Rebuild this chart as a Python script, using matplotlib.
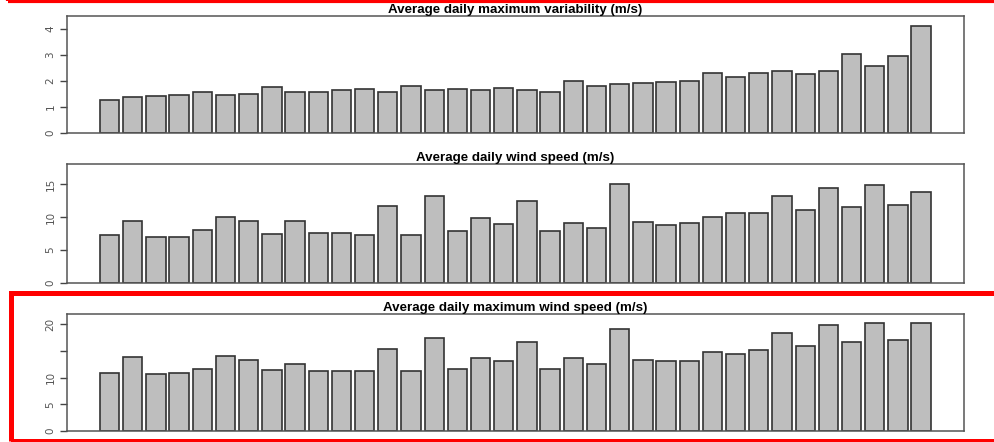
import numpy as np
import matplotlib
matplotlib.use("Agg")
import matplotlib.pyplot as plt
from matplotlib.patches import Rectangle

# values (36 bars each)
variability = [1.26, 1.38, 1.42, 1.47, 1.56, 1.47, 1.50, 1.78, 1.56, 1.56,
               1.64, 1.68, 1.56, 1.79, 1.65, 1.70, 1.64, 1.74, 1.67, 1.56,
               2.00, 1.79, 1.87, 1.94, 1.97, 2.01, 2.31, 2.17, 2.32, 2.40,
               2.26, 2.38, 3.03, 2.56, 2.95, 4.12]
wind_speed = [7.37, 9.40, 7.02, 7.02, 8.03, 10.10, 9.50, 7.52, 9.40, 7.68,
              7.68, 7.32, 11.64, 7.32, 13.17, 7.98, 9.86, 8.90, 12.50, 7.93,
              9.20, 8.29, 15.00, 9.35, 8.85, 9.20, 10.10, 10.70, 10.70, 13.17,
              11.03, 14.39, 11.54, 14.85, 11.90, 13.78]
max_wind = [10.97, 13.92, 10.60, 10.90, 11.72, 13.98, 13.23, 11.35, 12.48, 11.29,
            11.29, 11.29, 15.30, 11.29, 17.43, 11.72, 13.67, 13.10, 16.60, 11.66,
            13.60, 12.48, 19.18, 13.23, 13.17, 13.17, 14.80, 14.36, 15.10, 18.37,
            15.92, 19.80, 16.68, 20.30, 17.05, 20.30]

titles = ["Average daily maximum variability (m/s)",
          "Average daily wind speed (m/s)",
          "Average daily maximum wind speed (m/s)"]
ytop = [4.5, 18.1, 21.94]
yticks = [[0, 1, 2, 3, 4], [0, 5, 10, 15], [0, 5, 10, 15, 20]]
ylabels = [["0", "1", "2", "3", "4"], ["0", "5", "10", "15"], ["0", "5", "10", "", "20"]]

W, H = 995, 442
fig = plt.figure(figsize=(W / 100, H / 100), dpi=100)
title_font = ['Liberation Sans Narrow', 'Liberation Sans', 'DejaVu Sans']

# axes boxes in pixels: (top, bottom)
boxes = [(16, 133), (164, 283), (314, 431)]
left_px, right_px = 66.7, 964

# R style barplot: width 1, space 0.2
n = len(variability)
x = 0.2 + 1.2 * np.arange(n) + 0.5

for k, data in enumerate([variability, wind_speed, max_wind]):
    top, bot = boxes[k]
    ax = fig.add_axes([left_px / W, 1 - bot / H, (right_px - left_px) / W, (bot - top) / H])
    ax.bar(x, data, width=1.0, color='#bebebe', edgecolor='#333333', linewidth=1.2)
    ax.set_xlim(0.2 - 1.72, 43.2 + 1.72)
    ax.set_ylim(0, ytop[k])
    ax.set_xticks([])
    ax.set_yticks(yticks[k])
    ax.set_yticklabels(ylabels[k], rotation=90, va='center', fontsize=7.5, color='#555555')
    ax.tick_params(axis='y', length=5, width=1.0, color='#444444', pad=3)
    for s in ax.spines.values():
        s.set_color('#555555')
        s.set_linewidth(1.1)
    ax.set_title(titles[k], fontsize=9.6, fontweight='bold', family=title_font, pad=1.5)

# red highlight frames
fig.patches.append(Rectangle((8 / W, 1 - 1 / H), 1.0, 0.2, transform=fig.transFigure,
                             fill=False, edgecolor='#ff0000', linewidth=3, figure=fig))
fig.patches.append(Rectangle((10.8 / W, 1 - 441 / H), 1.0, (441 - 292.5) / H,
                             transform=fig.transFigure, fill=False, edgecolor='#ff0000',
                             linewidth=3.6, figure=fig))

fig.savefig("out.png", dpi=100)
